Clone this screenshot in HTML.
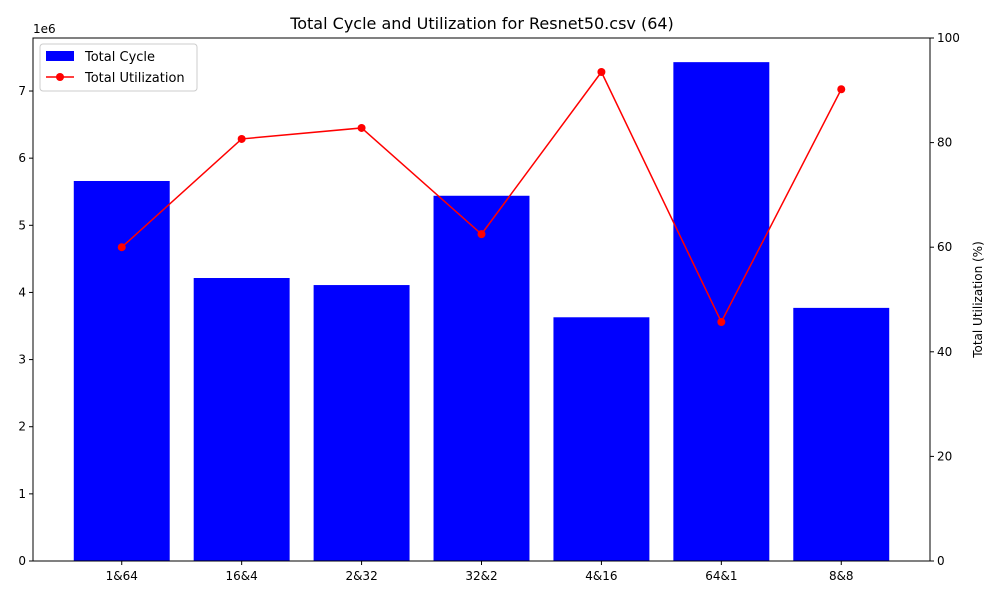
<!DOCTYPE html>
<html><head><meta charset="utf-8"><style>
body{margin:0;background:#fff;font-family:"Liberation Sans","DejaVu Sans",sans-serif;}
svg text{font-family:"DejaVu Sans","Liberation Sans",sans-serif;fill:#000;}
</style></head><body>
<svg id="chart" width="1000" height="600" xmlns="http://www.w3.org/2000/svg">
<rect width="1000" height="600" fill="#fff"/>
<text x="482" y="29" font-size="16" text-anchor="middle">Total Cycle and Utilization for Resnet50.csv (64)</text>
<g id="bars"></g>
<g id="axes"></g>
<g id="line"></g>
<g>
<rect x="40" y="44" width="157" height="47" fill="#fff" stroke="#ccc" rx="3"/>
<rect x="46" y="51" width="28" height="10" fill="#0000ff"/>
<text x="85" y="61" font-size="13">Total Cycle</text>
<line x1="46" y1="77" x2="74" y2="77" stroke="#ff0000" stroke-width="1.5"/>
<circle cx="60" cy="77" r="4" fill="#ff0000"/>
<text x="85" y="82" font-size="13">Total Utilization</text>
</g>
</svg>
<script>
const categories=["1&64","16&4","2&32","32&2","4&16","64&1","8&8"];
const cycles=[5.66,4.215,4.11,5.44,3.63,7.43,3.77];
const utilization=[60.0,80.7,82.8,62.5,93.5,45.7,90.2];
const leftTicks=[0,1,2,3,4,5,6,7];
const rightTicks=[0,20,40,60,80,100];
const NS="http://www.w3.org/2000/svg";
const L=33,R=930,T=38,B=561;
const xs=i=>L+(i+0.74)*(R-L)/7.48;
const yl=v=>B-v*67.14;
const yr=v=>B-v*(B-T)/100;
const bw=0.8*(R-L)/7.48;
function mk(tag,attrs,parent){const e=document.createElementNS(NS,tag);for(const k in attrs)e.setAttribute(k,attrs[k]);parent.appendChild(e);return e;}
const gb=document.getElementById('bars'),ga=document.getElementById('axes'),gl=document.getElementById('line');
cycles.forEach((v,i)=>{const r=mk('rect',{x:xs(i)-bw/2,y:yl(v),width:bw,height:B-yl(v),fill:'#0000ff'},gb);

});
mk('rect',{x:L,y:T,width:R-L,height:B-T,fill:'none',stroke:'#000','stroke-width':1},ga);
categories.forEach((c,i)=>{mk('line',{x1:xs(i),x2:xs(i),y1:B,y2:B+4,stroke:'#000'},ga);
const t=mk('text',{x:xs(i),y:B+19,'font-size':12,'text-anchor':'middle'},ga);t.textContent=c;

});
leftTicks.forEach(v=>{mk('line',{x1:L-4,x2:L,y1:yl(v),y2:yl(v),stroke:'#000'},ga);
const t=mk('text',{x:L-7,y:yl(v)+4,'font-size':12,'text-anchor':'end'},ga);t.textContent=v;

});
const e6=mk('text',{x:L,y:T-5,'font-size':12},ga);e6.textContent='1e6';


rightTicks.forEach(v=>{mk('line',{x1:R,x2:R+4,y1:yr(v),y2:yr(v),stroke:'#000'},ga);
const t=mk('text',{x:R+7,y:yr(v)+4,'font-size':12},ga);t.textContent=v;

});
const yt=mk('text',{x:0,y:0,'font-size':12,'text-anchor':'middle',transform:`translate(982,${(T+B)/2}) rotate(-90)`},ga);
yt.textContent='Total Utilization (%)';


mk('polyline',{points:utilization.map((v,i)=>xs(i)+','+yr(v)).join(' '),fill:'none',stroke:'#ff0000','stroke-width':1.5},gl);
utilization.forEach((v,i)=>{const c=mk('circle',{cx:xs(i),cy:yr(v),r:4,fill:'#ff0000'},gl);

});
</script>
</body></html>
